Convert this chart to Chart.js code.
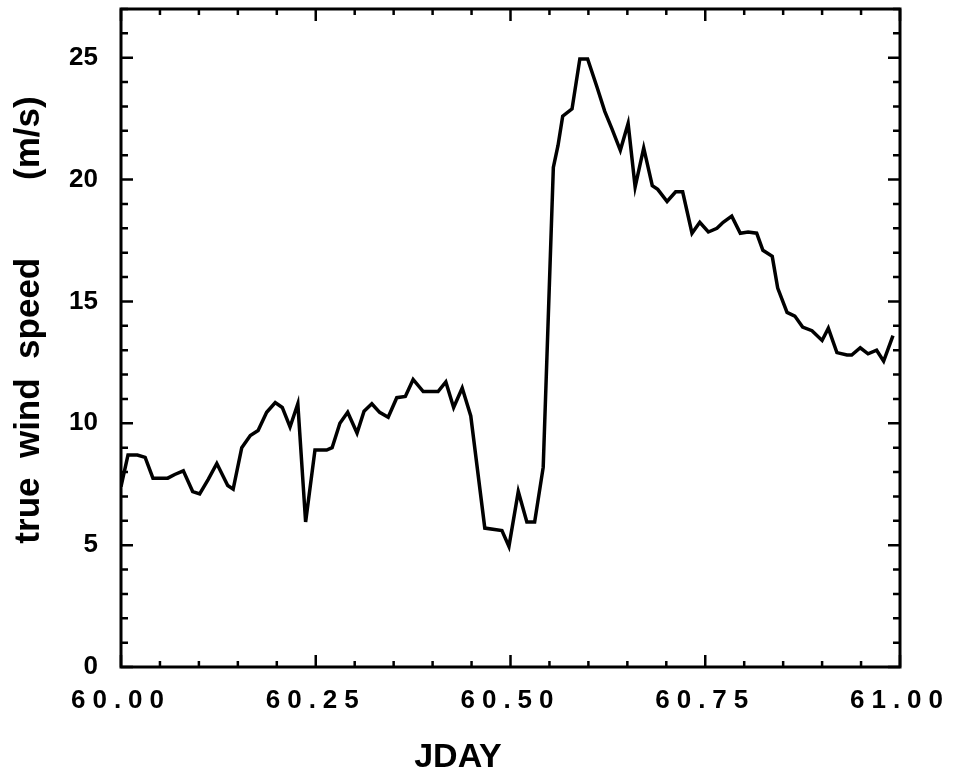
<!DOCTYPE html>
<html>
<head>
<meta charset="utf-8">
<title>True wind speed</title>
<script src="https://cdn.jsdelivr.net/npm/chart.js@4.4.1/dist/chart.umd.min.js"></script>
<style>
  body { margin: 0; background: #fff; }
</style>
</head>
<body>
<canvas id="windChart" width="954" height="771"></canvas>
<script>
// julian day of each sample
const jday = [
  60.000, 60.009, 60.021, 60.031, 60.041, 60.060, 60.069, 60.080, 60.092, 60.101,
  60.112, 60.123, 60.137, 60.144, 60.155, 60.166, 60.176, 60.187, 60.198, 60.207,
  60.217, 60.227, 60.237, 60.249, 60.264, 60.271, 60.281, 60.291, 60.303, 60.312,
  60.322, 60.332, 60.343, 60.354, 60.365, 60.375, 60.388, 60.407, 60.417, 60.427,
  60.438, 60.449, 60.467, 60.489, 60.498, 60.510, 60.521, 60.531, 60.542, 60.555,
  60.561, 60.567, 60.579, 60.589, 60.599, 60.611, 60.621, 60.630, 60.641, 60.651,
  60.660, 60.671, 60.682, 60.689, 60.701, 60.712, 60.721, 60.733, 60.743, 60.754,
  60.765, 60.773, 60.784, 60.795, 60.805, 60.816, 60.824, 60.836, 60.843, 60.855,
  60.865, 60.875, 60.887, 60.900, 60.908, 60.919, 60.932, 60.938, 60.949, 60.959,
  60.970, 60.979, 60.991
];

// true wind speed (m/s)
const windSpeed = [
  7.4, 8.7, 8.7, 8.6, 7.75, 7.75, 7.9, 8.05, 7.2, 7.1,
  7.7, 8.35, 7.45, 7.3, 9.0, 9.5, 9.7, 10.45, 10.85, 10.65,
  9.85, 10.8, 5.95, 8.9, 8.9, 9.0, 10.0, 10.45, 9.6, 10.5,
  10.8, 10.45, 10.25, 11.05, 11.1, 11.8, 11.3, 11.3, 11.7, 10.65,
  11.45, 10.3, 5.7, 5.6, 4.95, 7.2, 5.95, 5.95, 8.2, 20.5,
  21.4, 22.6, 22.9, 24.95, 24.95, 23.8, 22.8, 22.1, 21.2, 22.3,
  19.7, 21.3, 19.75, 19.6, 19.1, 19.5, 19.5, 17.8, 18.25, 17.85,
  18.0, 18.25, 18.5, 17.8, 17.85, 17.8, 17.1, 16.85, 15.55, 14.55,
  14.4, 13.95, 13.8, 13.4, 13.9, 12.9, 12.8, 12.8, 13.1, 12.85,
  13.0, 12.55, 13.6
];

const xTickLabels = [60.00, 60.25, 60.50, 60.75, 61.00];
const yTickLabels = [0, 5, 10, 15, 20, 25];

const FONT = '"Liberation Sans", Arial, Helvetica, sans-serif';

// frame, inward tick marks, spaced x labels and axis titles
const framePlugin = {
  id: 'frame',
  afterDatasetsDraw(chart) {
    const { ctx, chartArea: a, scales: { x, y } } = chart;
    ctx.save();
    ctx.strokeStyle = '#000';
    ctx.lineWidth = 3;
    ctx.strokeRect(a.left, a.top, a.right - a.left, a.bottom - a.top);

    ctx.lineWidth = 2.5;
    ctx.beginPath();
    for (let i = 0; i <= 20; i++) {
      const v = 60 + i * 0.05;
      const px = x.getPixelForValue(v);
      const len = i % 5 === 0 ? 12 : 6;
      ctx.moveTo(px, a.bottom); ctx.lineTo(px, a.bottom - len);
      ctx.moveTo(px, a.top); ctx.lineTo(px, a.top + len);
    }
    for (let v = 0; v <= 27; v++) {
      const py = y.getPixelForValue(v);
      const len = v % 5 === 0 ? 12 : 7;
      ctx.moveTo(a.left, py); ctx.lineTo(a.left + len, py);
      ctx.moveTo(a.right, py); ctx.lineTo(a.right - len, py);
    }
    ctx.stroke();

    ctx.fillStyle = '#000';
    ctx.font = 'bold 26px ' + FONT;
    ctx.textAlign = 'center';
    ctx.textBaseline = 'alphabetic';
    ctx.letterSpacing = '7px';
    xTickLabels.forEach(v => {
      ctx.fillText(v.toFixed(2), x.getPixelForValue(v), 708);
    });
    ctx.letterSpacing = '0px';

    ctx.font = 'bold 34px ' + FONT;
    ctx.fillText('JDAY', 458, 767);

    ctx.font = 'bold 35px ' + FONT;
    ctx.translate(39, 320);
    ctx.rotate(-Math.PI / 2);
    ctx.fillText('true  wind  speed        (m/s)', 0, 0);
    ctx.restore();
  }
};

const ctx = document.getElementById('windChart').getContext('2d');

new Chart(ctx, {
  type: 'line',
  data: {
    datasets: [{
      data: jday.map((d, i) => ({ x: d, y: windSpeed[i] })),
      borderColor: '#000',
      borderWidth: 3.5,
      pointRadius: 0,
      tension: 0,
      fill: false
    }]
  },
  options: {
    responsive: false,
    animation: false,
    layout: { padding: { top: 9, right: 54, left: 0, bottom: 0 } },
    plugins: {
      legend: { display: false },
      tooltip: { enabled: false }
    },
    scales: {
      x: {
        type: 'linear',
        min: 60,
        max: 61,
        grid: { display: false },
        border: { display: false },
        ticks: { display: false },
        afterFit(scale) {
          scale.height = 104;
          scale.paddingLeft = 0;
          scale.paddingRight = 0;
        }
      },
      y: {
        min: 0,
        max: 27,
        grid: { display: false },
        border: { display: false },
        afterBuildTicks(scale) {
          scale.ticks = yTickLabels.map(v => ({ value: v }));
        },
        ticks: {
          color: '#000',
          padding: 15,
          font: { family: FONT, size: 26, weight: 'bold' }
        },
        afterFit(scale) {
          scale.width = 121;
          scale.paddingTop = 0;
          scale.paddingBottom = 0;
        }
      }
    }
  },
  plugins: [framePlugin]
});
</script>
</body>
</html>
